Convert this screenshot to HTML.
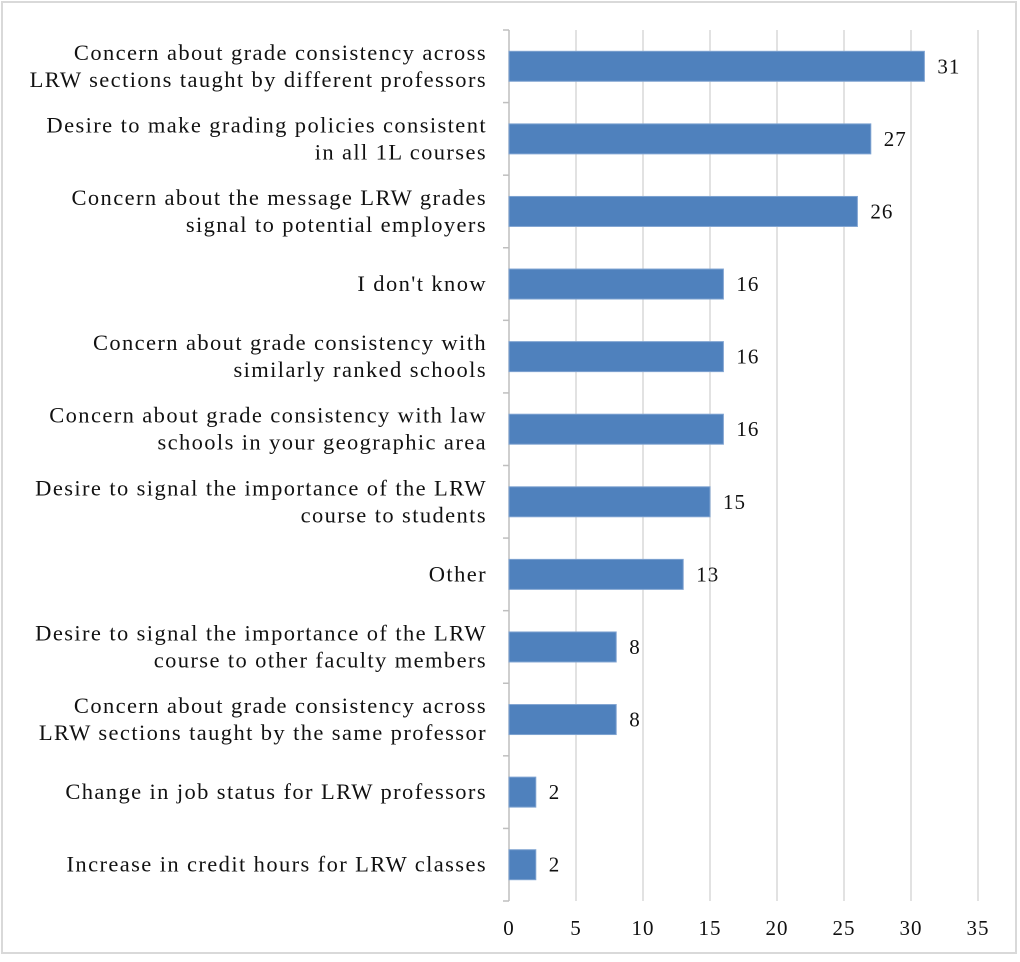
<!DOCTYPE html>
<html><head><meta charset="utf-8"><style>
html,body{margin:0;padding:0;background:#fff;}
svg text{font-family:"Liberation Serif",serif;fill:#111;}
</style></head><body>
<svg id="chart" width="1020" height="957" xmlns="http://www.w3.org/2000/svg">
<rect x="2" y="2" width="1014" height="951" fill="#fff" stroke="#d9d9d9" stroke-width="2"/>
<g id="grid"></g><g id="bars"></g><g id="labels"></g><g id="ticks"></g>
</svg>
<script>
const categories=[
["Concern about grade consistency across","LRW sections taught by different professors"],
["Desire to make grading policies consistent","in all 1L courses"],
["Concern about the message LRW grades","signal to potential employers"],
["I don't know"],
["Concern about grade consistency with","similarly ranked schools"],
["Concern about grade consistency with law","schools in your geographic area"],
["Desire to signal the importance of the LRW","course to students"],
["Other"],
["Desire to signal the importance of the LRW","course to other faculty members"],
["Concern about grade consistency across","LRW sections taught by the same professor"],
["Change in job status for LRW professors"],
["Increase in credit hours for LRW classes"]];
const values=[31,27,26,16,16,16,15,13,8,8,2,2];
const tickValues=[0,5,10,15,20,25,30,35];
const X0=509,PX=13.4,TOP=30,BOT=901;
const band=(BOT-TOP)/categories.length;
const x=v=>X0+v*PX;
const yc=i=>TOP+band*(i+0.5);
const NS="http://www.w3.org/2000/svg";
function mk(t,a,p){const e=document.createElementNS(NS,t);for(const k in a)e.setAttribute(k,a[k]);p.appendChild(e);return e;}
const grid=document.getElementById('grid'),bars=document.getElementById('bars'),labels=document.getElementById('labels'),ticks=document.getElementById('ticks');
tickValues.forEach(v=>{
 const l=mk('line',{x1:x(v),x2:x(v),y1:TOP,y2:BOT,stroke:v===0?'#bfbfbf':'#d9d9d9','stroke-width':1.5},grid);
 
 
 const t=mk('text',{x:x(v),y:935,'text-anchor':'middle','font-size':21,'letter-spacing':1},ticks);
 t.textContent=v;
 
 
});
for(let i=0;i<=categories.length;i++){
 const l=mk('line',{x1:X0-6,x2:X0,y1:TOP+band*i,y2:TOP+band*i,stroke:'#bfbfbf','stroke-width':1.5},grid);
 
 
}
categories.forEach((c,i)=>{
 const r=mk('rect',{x:X0,y:yc(i)-15,width:values[i]*PX,height:30,fill:'#4f81bd',stroke:'#7fa3d1','stroke-width':1},bars);
 
 
 const v=mk('text',{x:x(values[i])+13,y:yc(i)+7,'font-size':21,'letter-spacing':1},labels);
 v.textContent=values[i];
 
 
 const t=mk('text',{x:487,'text-anchor':'end','font-size':22.5,'letter-spacing':1.4},labels);
 
 
 const n=c.length;
 c.forEach((line,j)=>{
  const s=mk('tspan',{x:487,y:yc(i)+7+(j-(n-1)/2)*27},t);
  s.textContent=line;
 });
});
</script>
</body></html>
